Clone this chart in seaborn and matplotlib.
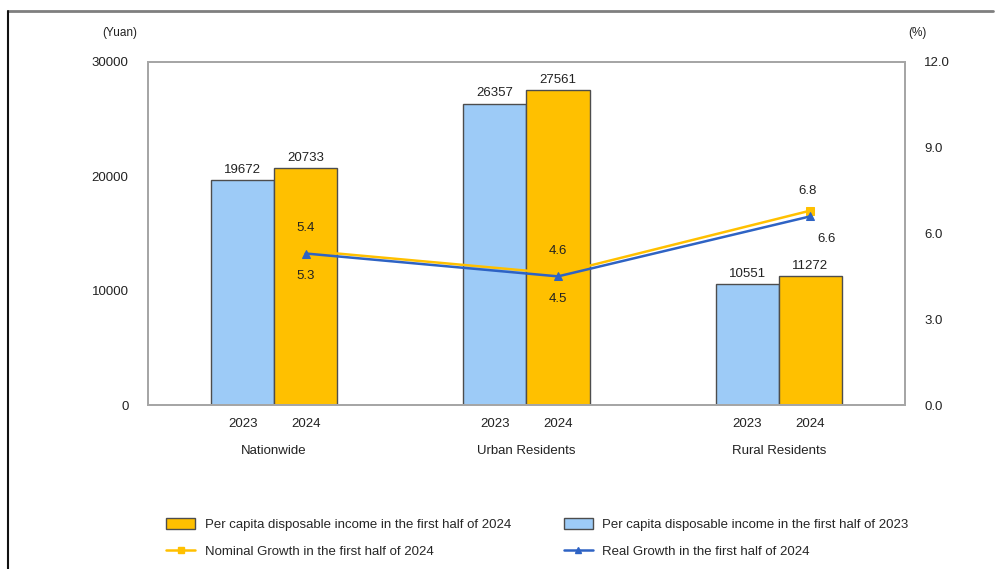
import matplotlib
matplotlib.use("Agg")
import matplotlib.pyplot as plt
from matplotlib.lines import Line2D
from matplotlib.patches import Patch
from matplotlib.transforms import blended_transform_factory
import seaborn as sns
import pandas as pd
import numpy as np

# Per capita disposable income (yuan) and growth rates (%)
categories = ["Nationwide", "Urban Residents", "Rural Residents"]
years = ["2023", "2024"]
income_2023 = [19672, 26357, 10551]
income_2024 = [20733, 27561, 11272]
nominal_growth = [5.4, 4.6, 6.8]
real_growth = [5.3, 4.5, 6.6]
left_ticks = [0, 10000, 20000, 30000]
right_ticks = [0.0, 3.0, 6.0, 9.0, 12.0]

BLUE_BAR = "#9DCBF7"
GOLD_BAR = "#FFC000"
NOMINAL = "#FFC000"
REAL = "#2E63C4"
SPINE = "#A6A6A6"
TEXT = "#222222"

sns.set_theme(style="white")
plt.rcParams["font.family"] = ["Liberation Sans", "DejaVu Sans"]

fig = plt.figure(figsize=(9.97, 5.69), dpi=100)
ax = fig.add_axes([0.1484, 0.2882, 0.7593, 0.6029])

df = pd.DataFrame({
    "category": categories * 2,
    "year": [years[0]] * 3 + [years[1]] * 3,
    "income": income_2023 + income_2024,
})

sns.barplot(data=df, x="category", y="income", hue="year", order=categories,
            hue_order=years, palette=[BLUE_BAR, GOLD_BAR], width=0.5,
            saturation=1, edgecolor="#4D4D4D", linewidth=1.0, ax=ax,
            legend=False)

for cont in ax.containers:
    ax.bar_label(cont, fmt="%d", padding=3, fontsize=9.5, color=TEXT)

ax.set_xlim(-0.5, 2.5)
ax.set_ylim(0, 30000)
ax.set_yticks(left_ticks)
ax.set_yticklabels([str(v) for v in left_ticks], fontsize=9.5, color=TEXT)
ax.set_xlabel("")
ax.set_ylabel("")

# year labels under each bar, category names below them
pos = np.arange(len(categories))
xt = np.concatenate([pos - 0.125, pos + 0.125])
ax.set_xticks(np.sort(xt))
ax.set_xticklabels([years[0], years[1]] * 3, fontsize=9.5, color=TEXT)
ax.tick_params(axis="x", length=0, pad=9)
ax.tick_params(axis="y", length=0, pad=14)
trans = blended_transform_factory(ax.transData, ax.transAxes)
for i, c in enumerate(categories):
    ax.text(i, -0.135, c, transform=trans, ha="center", va="center",
            fontsize=9.5, color=TEXT)

for side in ["top", "bottom", "left", "right"]:
    ax.spines[side].set_visible(True)
    ax.spines[side].set_color(SPINE)
    ax.spines[side].set_linewidth(1.3)

# growth rates on the secondary axis, placed at the 2024 bars
ax2 = ax.twinx()
gx = pos + 0.125
sns.lineplot(x=gx, y=nominal_growth, color=NOMINAL, marker="s", markersize=6,
             markeredgecolor=NOMINAL, linewidth=1.8, ax=ax2)
sns.lineplot(x=gx, y=real_growth, color=REAL, marker="^", markersize=6,
             markeredgecolor=REAL, linewidth=1.8, ax=ax2)
ax2.set_xlim(-0.5, 2.5)
ax2.set_ylim(0, 12)
ax2.set_yticks(right_ticks)
ax2.set_yticklabels([f"{v:.1f}" for v in right_ticks], fontsize=9.5, color=TEXT)
ax2.tick_params(axis="y", length=0, pad=14)
for side in ["top", "bottom", "left", "right"]:
    ax2.spines[side].set_color(SPINE)
    ax2.spines[side].set_linewidth(1.3)

nom_off = [(0, 16), (0, 16), (-2, 14)]
real_off = [(0, -16), (0, -16), (12, -16)]
for x, v, o in zip(gx, nominal_growth, nom_off):
    ax2.annotate(f"{v:.1f}", (x, v), xytext=o, textcoords="offset points",
                 ha="center", va="center", fontsize=9.5, color=TEXT)
for x, v, o in zip(gx, real_growth, real_off):
    ax2.annotate(f"{v:.1f}", (x, v), xytext=o, textcoords="offset points",
                 ha="center", va="center", fontsize=9.5, color=TEXT)

fig.text(120 / 997, 1 - 33 / 569, "(Yuan)", ha="center", va="center",
         fontsize=8.5, color=TEXT)
fig.text(917 / 997, 1 - 33 / 569, "(%)", ha="center", va="center",
         fontsize=8.5, color=TEXT)

handles = [
    Patch(facecolor=GOLD_BAR, edgecolor="#4D4D4D", linewidth=1.0),
    Line2D([], [], color=NOMINAL, marker="s", markersize=4, linewidth=1.8),
    Patch(facecolor=BLUE_BAR, edgecolor="#4D4D4D", linewidth=1.0),
    Line2D([], [], color=REAL, marker="^", markersize=4, linewidth=1.8),
]
labels = [
    "Per capita disposable income in the first half of 2024",
    "Nominal Growth in the first half of 2024",
    "Per capita disposable income in the first half of 2023",
    "Real Growth in the first half of 2024",
]
fig.legend(handles, labels, ncol=2, loc="center left",
           bbox_to_anchor=(0.155, 1 - 538 / 569), frameon=False,
           fontsize=9.5, handlelength=2.2, handleheight=0.8,
           columnspacing=4.0, labelspacing=1.05, handletextpad=0.7)

# outer frame lines
fig.add_artist(Line2D([8 / 997, 993 / 997], [1 - 11 / 569, 1 - 11 / 569],
                      transform=fig.transFigure, color="#7F7F7F", linewidth=2))
fig.add_artist(Line2D([8 / 997, 8 / 997], [1 - 11 / 569, 0],
                      transform=fig.transFigure, color="#111111", linewidth=1.5))

fig.savefig("out.png", dpi=100)
